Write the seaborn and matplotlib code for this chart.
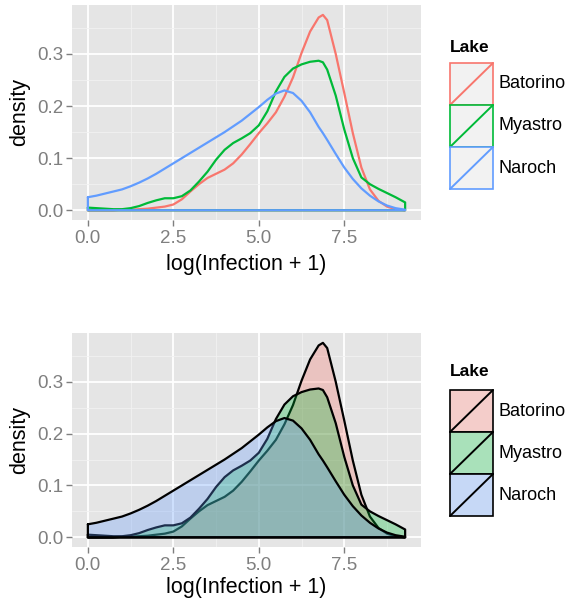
import numpy as np
import pandas as pd
import matplotlib
matplotlib.use("Agg")
import matplotlib.pyplot as plt
import seaborn as sns
from matplotlib.patches import Rectangle
from matplotlib.colors import to_rgb

# ---------------- data ----------------
lakes = ["Batorino", "Myastro", "Naroch"]
x_grid = [0.0, 0.25, 0.5, 0.75, 1.0, 1.25, 1.5, 1.75, 2.0, 2.25, 2.5, 2.75,
          3.0, 3.25, 3.5, 3.75, 4.0, 4.25, 4.5, 4.75, 5.0, 5.25, 5.5, 5.75,
          6.0, 6.25, 6.5, 6.75, 6.875, 7.0, 7.25, 7.5, 7.75, 8.0, 8.25, 8.5,
          8.75, 9.0, 9.28]
batorino = [0.000, 0.000, 0.000, 0.000, 0.001, 0.001, 0.002, 0.003, 0.005, 0.007,
            0.011, 0.021, 0.036, 0.050, 0.062, 0.070, 0.078, 0.090, 0.107, 0.127,
            0.148, 0.167, 0.188, 0.218, 0.255, 0.302, 0.343, 0.370, 0.375, 0.365,
            0.300, 0.225, 0.148, 0.082, 0.040, 0.018, 0.007, 0.002, 0.000]
myastro = [0.005, 0.004, 0.003, 0.002, 0.002, 0.004, 0.008, 0.014, 0.019, 0.023,
           0.023, 0.027, 0.038, 0.055, 0.074, 0.097, 0.116, 0.129, 0.138, 0.148,
           0.163, 0.190, 0.228, 0.256, 0.272, 0.280, 0.285, 0.287, 0.284, 0.270,
           0.220, 0.155, 0.100, 0.063, 0.050, 0.041, 0.033, 0.025, 0.015]
naroch = [0.025, 0.028, 0.032, 0.036, 0.040, 0.046, 0.053, 0.061, 0.070, 0.080,
          0.090, 0.100, 0.110, 0.120, 0.130, 0.140, 0.150, 0.161, 0.172, 0.185,
          0.198, 0.212, 0.224, 0.230, 0.225, 0.210, 0.188, 0.160, 0.148, 0.135,
          0.108, 0.082, 0.060, 0.042, 0.028, 0.017, 0.009, 0.004, 0.001]
x_ticks = [0.0, 2.5, 5.0, 7.5]
x_tick_labels = ["0.0", "2.5", "5.0", "7.5"]
y_ticks = [0.0, 0.1, 0.2, 0.3]
y_tick_labels = ["0.0", "0.1", "0.2", "0.3"]
colors = ["#F8766D", "#00BA38", "#619CFF"]
series = {"Batorino": batorino, "Myastro": myastro, "Naroch": naroch}

# ---------------- build tables ----------------
rows = []
for lake in lakes:
    ys = series[lake]
    xs_c = list(x_grid) + [x_grid[-1], x_grid[0], x_grid[0]]
    ys_c = list(ys) + [0.0, 0.0, ys[0]]
    for xv, yv in zip(xs_c, ys_c):
        rows.append({"Lake": lake, "x": xv, "density": yv})
closed = pd.DataFrame(rows)

# ---------------- style ----------------
sns.set_theme(style="darkgrid")
plt.rcParams['font.family'] = ['Liberation Sans', 'DejaVu Sans']

W, H = 567, 602
fig = plt.figure(figsize=(W / 100, H / 100), dpi=100)
fig.patch.set_facecolor("white")


def ax_rect(l, t, r, b):
    return [l / W, 1 - b / H, (r - l) / W, (b - t) / H]


ax1 = fig.add_axes(ax_rect(72, 5, 421, 220))
ax2 = fig.add_axes(ax_rect(72, 333, 421, 547))


def style(ax, ph, label_off):
    ax.set_facecolor("#E5E5E5")
    ax.set_xlim(-0.464, 9.744)
    ax.set_ylim(-0.01875, 0.394)
    ax.set_xticks(x_ticks)
    ax.set_xticklabels(x_tick_labels)
    ax.set_yticks(y_ticks)
    ax.set_yticklabels(y_tick_labels)
    ax.set_xticks([1.25, 3.75, 6.25, 8.75], minor=True)
    ax.set_yticks([0.05, 0.15, 0.25, 0.35], minor=True)
    ax.grid(which='major', color='white', lw=1.3)
    ax.grid(which='minor', color='#F2F2F2', lw=0.6)
    ax.set_axisbelow(True)
    for s in ax.spines.values():
        s.set_visible(False)
    ax.tick_params(which='major', length=4, width=1.0, color='#7F7F7F',
                   labelcolor='#7F7F7F', labelsize=13.5, direction='out',
                   bottom=True, left=True)
    ax.tick_params(which='minor', length=0)
    ax.tick_params(axis='x', pad=3)
    ax.tick_params(axis='y', pad=2)
    ax.set_xlabel('log(Infection + 1)', fontsize=15.5, color='black')
    ax.set_ylabel('density', fontsize=15.5, color='black')
    ax.xaxis.set_label_coords(0.5, -label_off / ph)
    ax.xaxis.label.set_va('center')
    ax.yaxis.set_label_coords(-(72 - 20) / 349, 0.5)
    ax.yaxis.label.set_va('center')


# top panel: outlines only
sns.lineplot(data=closed, x="x", y="density", hue="Lake", hue_order=lakes,
             palette=colors, sort=False, estimator=None, lw=1.6,
             legend=False, ax=ax1)
style(ax1, 215, 45)

# bottom panel: filled with black outlines
z = 2
for i, lake in enumerate(lakes):
    ax2.fill_between(x_grid, series[lake], 0, color=colors[i], alpha=0.3,
                     lw=0, zorder=z)
    sns.lineplot(data=closed[closed.Lake == lake], x="x", y="density",
                 sort=False, estimator=None, color="black", lw=1.6,
                 ax=ax2, zorder=z + 1)
    z += 2
style(ax2, 214, 41)


# ---------------- legends (drawn manually, ggplot style) ----------------
def blend(c, a, bg="#F2F2F2"):
    c = np.array(to_rgb(c)); b = np.array(to_rgb(bg))
    return tuple(a * c + (1 - a) * b)


def draw_legend(title_y, key_top, filled):
    key_l, key_r, kh = 450, 493, 42
    lax = fig.add_axes(ax_rect(key_l, key_top, key_r, key_top + 3 * kh))
    lax.set_xlim(0, 1)
    lax.set_ylim(0, 3)
    lax.axis("off")
    for i, lake in enumerate(lakes):
        y0 = 2 - i
        if filled:
            fc, ec = blend(colors[i], 0.3), "black"
        else:
            fc, ec = "#F2F2F2", colors[i]
        lax.add_patch(Rectangle((0, y0), 1, 1, facecolor=fc, edgecolor=ec,
                                lw=1.2, clip_on=False, zorder=2 + i))
        lax.plot([0, 1], [y0, y0 + 1], color=ec, lw=1.4, clip_on=False,
                 zorder=2 + i)
        fig.text(498 / W, 1 - (key_top + kh * i + kh / 2) / H, lake,
                 fontsize=13, va="center", ha="left", color="black")
    fig.text(450 / W, 1 - title_y / H, "Lake", fontsize=12.5,
             fontweight="bold", va="center", ha="left", color="black")


draw_legend(48, 63, False)
draw_legend(372, 390, True)

fig.savefig("out.png", dpi=100)
